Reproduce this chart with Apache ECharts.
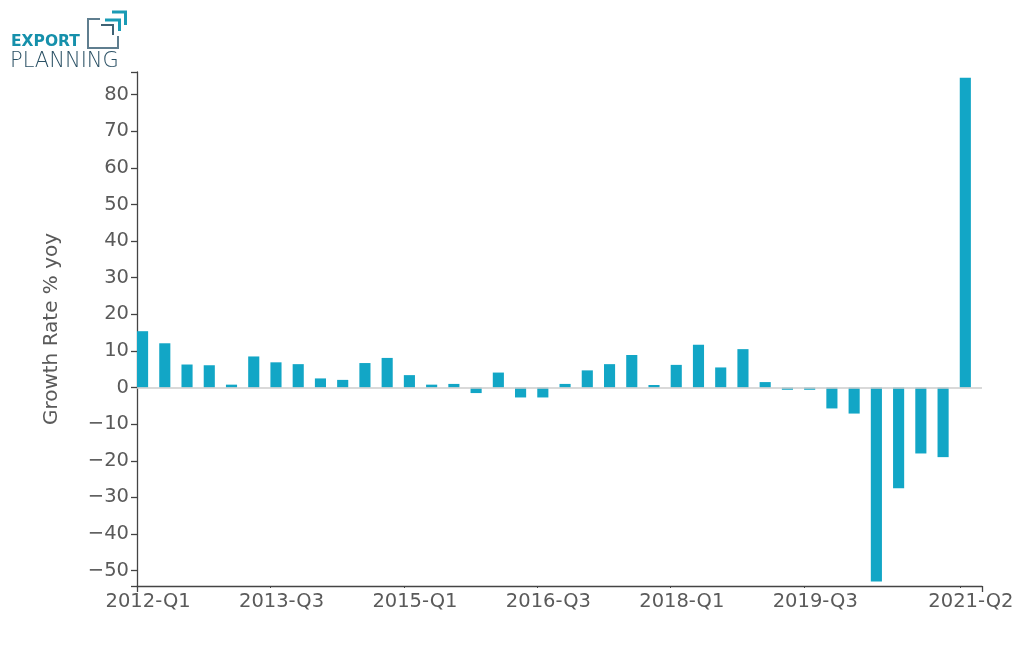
<!DOCTYPE html>
<html>
<head>
<meta charset="utf-8">
<script src="https://cdn.jsdelivr.net/npm/echarts@6/dist/echarts.min.js"></script>
<style>
  html, body { margin: 0; padding: 0; background: #ffffff; }
  #chart { width: 1034px; height: 649px; }
</style>
</head>
<body>
<div id="chart"></div>
<script>
// Quarter categories
const quarters = [
  '2012-Q1','2012-Q2','2012-Q3','2012-Q4',
  '2013-Q1','2013-Q2','2013-Q3','2013-Q4',
  '2014-Q1','2014-Q2','2014-Q3','2014-Q4',
  '2015-Q1','2015-Q2','2015-Q3','2015-Q4',
  '2016-Q1','2016-Q2','2016-Q3','2016-Q4',
  '2017-Q1','2017-Q2','2017-Q3','2017-Q4',
  '2018-Q1','2018-Q2','2018-Q3','2018-Q4',
  '2019-Q1','2019-Q2','2019-Q3','2019-Q4',
  '2020-Q1','2020-Q2','2020-Q3','2020-Q4',
  '2021-Q1','2021-Q2'
];
// Growth rate % yoy
const growth = [
  15.4, 12.1, 6.3, 6.1,
  0.8, 8.5, 6.9, 6.4,
  2.5, 2.1, 6.7, 8.1,
  3.4, 0.8, 1.0, -1.5,
  4.1, -2.7, -2.7, 1.0,
  4.7, 6.4, 8.9, 0.7,
  6.2, 11.7, 5.5, 10.5,
  1.5, -0.6, -0.6, -5.7,
  -7.1, -53.0, -27.5, -18.0,
  -19.0, 84.6
];
// Labelled x categories
const xLabelQuarters = ['2012-Q1','2013-Q3','2015-Q1','2016-Q3','2018-Q1','2019-Q3','2021-Q2'];
// Y ticks and range
const yTicks = [-50, -40, -30, -20, -10, 0, 10, 20, 30, 40, 50, 60, 70, 80];
const yMin = -54.2;
const yMax = 86.2;

const FONT = 'DejaVu Sans';
const TXT = '#5a5a5a';
const AX = '#444444';

const showIdx = (i) => xLabelQuarters.indexOf(quarters[i]) >= 0;

const chart = echarts.init(document.getElementById('chart'), null, { renderer: 'canvas' });

const option = {
  animation: false,
  backgroundColor: '#ffffff',
  grid: { left: 137, right: 52, top: 72, bottom: 63, containLabel: false },
  xAxis: [
    {
      type: 'category',
      data: quarters,
      boundaryGap: true,
      position: 'bottom',
      axisLine: { show: true, onZero: false, lineStyle: { color: AX, width: 1.3 } },
      axisTick: { show: true, interval: (i) => showIdx(i), length: 2, lineStyle: { color: AX, width: 1 } },
      axisLabel: {
        interval: (i) => showIdx(i),
        color: TXT, fontSize: 19.5, fontFamily: FONT, margin: 6
      },
      splitLine: { show: false }
    },
    {
      type: 'category',
      data: quarters,
      boundaryGap: true,
      position: 'bottom',
      axisLine: { show: false, onZero: false },
      axisTick: { show: true, interval: (i) => i === 0, length: 6, lineStyle: { color: AX, width: 1.3 } },
      axisLabel: { show: false },
      splitLine: { show: false }
    }
  ],
  yAxis: {
    type: 'value',
    min: yMin,
    max: yMax,
    name: 'Growth Rate % yoy',
    nameLocation: 'middle',
    nameGap: 75,
    nameTextStyle: { color: TXT, fontSize: 20, fontFamily: FONT },
    axisLine: { show: true, onZero: false, lineStyle: { color: AX, width: 1.3 } },
    axisTick: { show: true, length: 6, customValues: [yMin].concat(yTicks, [yMax]), lineStyle: { color: AX, width: 1.3 } },
    axisLabel: {
      customValues: yTicks,
      formatter: (v) => String(v).replace('-', '\u2212'),
      color: TXT, fontSize: 19.5, fontFamily: FONT, margin: 8
    },
    splitLine: { show: false }
  },
  series: [
    {
      type: 'bar',
      name: 'Growth',
      data: growth,
      barWidth: '50%',
      barGap: '0%',
      itemStyle: { color: '#12a6c6', borderWidth: 0 },
      markLine: {
        silent: true,
        symbol: ['none', 'none'],
        label: { show: false },
        lineStyle: { color: '#cccccc', width: 1.5, type: 'solid' },
        data: [{ yAxis: 0 }]
      }
    },
    {
      type: 'bar',
      name: 'spacer',
      data: [],
      barWidth: '50%',
      silent: true
    }
  ],
  graphic: [
    {
      type: 'text', left: 11, top: 34,
      style: { text: 'EXPORT', font: 'bold 15.5px "DejaVu Sans"', fill: '#1690ab' }
    },
    {
      type: 'text', left: 10, top: 51,
      style: { text: 'PLANNING', font: '300 21px "DejaVu Sans"', fill: '#2a5064' }
    },
    {
      type: 'polyline',
      shape: { points: [[100, 19], [88, 19], [88, 48], [118, 48], [118, 36]] },
      style: { stroke: '#5f7e8f', lineWidth: 2, fill: null }
    },
    {
      type: 'polyline',
      shape: { points: [[101, 25], [113, 25], [113, 35]] },
      style: { stroke: '#3f6274', lineWidth: 2, fill: null }
    },
    {
      type: 'polyline',
      shape: { points: [[105, 20], [119.5, 20], [119.5, 31]] },
      style: { stroke: '#1a9bb5', lineWidth: 3, fill: null }
    },
    {
      type: 'polyline',
      shape: { points: [[112, 12], [125.5, 12], [125.5, 25]] },
      style: { stroke: '#1a9bb5', lineWidth: 3, fill: null }
    }
  ]
};

chart.setOption(option);
</script>
</body>
</html>
